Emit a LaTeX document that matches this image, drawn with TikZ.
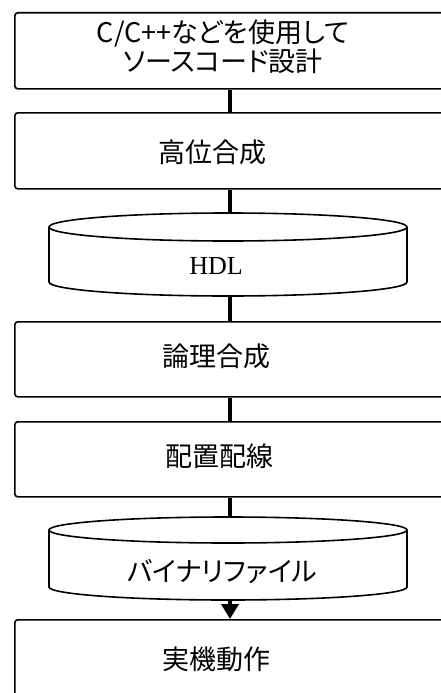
\documentclass[tikz,border=0pt]{standalone}
\usepackage{fontspec}
\setmainfont{Liberation Serif}
\newfontfamily\jp[RawFeature=+palt]{Noto Sans CJK JP}
\usetikzlibrary{arrows.meta}
\begin{document}
\begin{tikzpicture}[x=1pt,y=-1pt,
  box/.style={draw, line width=1.6pt, rounded corners=3pt, fill=white, inner sep=0pt},
  conn/.style={line width=4.5pt},
  cyl/.style={draw, line width=1.6pt, fill=white},
  jtext/.style={font=\jp\fontsize{27}{29}\selectfont, align=center, inner sep=0pt},
  ltext/.style={font=\fontsize{26}{28}\selectfont, inner sep=0pt}
]
\useasboundingbox (0,0) rectangle (441,693);
\coordinate (cx) at (230,0);
\begin{scope}
\clip (0,0) rectangle (441,693);
\node[box, anchor=north west, minimum width=450pt, minimum height=76pt] (b1) at (14,12) {};
\node[box, anchor=north west, minimum width=450pt, minimum height=76pt] (b2) at (14,112) {};
\node[box, anchor=north west, minimum width=450pt, minimum height=75pt] (b3) at (14,321) {};
\node[box, anchor=north west, minimum width=450pt, minimum height=75pt] (b4) at (14,421) {};
\node[box, anchor=north west, minimum width=450pt, minimum height=100pt] (b5) at (14,619) {};
\end{scope}
% cylinders
\path[cyl] (49,227) -- (49,282) arc[start angle=180, end angle=360, x radius=179, y radius=-14] -- (407,227);
\draw[cyl] (228,227) ellipse[x radius=179, y radius=14];
\coordinate (h1t) at (230,213);
\coordinate (h1b) at (230,296);
\path[cyl] (49,530) -- (49,587) arc[start angle=180, end angle=360, x radius=179, y radius=-13] -- (407,530);
\draw[cyl] (228,530) ellipse[x radius=179, y radius=13];
\coordinate (h2t) at (230,517);
\coordinate (h2b) at (230,600);
% connectors
\draw[conn] (b1.south -| cx) -- (b2.north -| cx);
\draw[conn] (b2.south -| cx) -- (h1t);
\draw[conn] (h1b) -- (b3.north -| cx);
\draw[conn] (b3.south -| cx) -- (b4.north -| cx);
\draw[conn] (b4.south -| cx) -- (h2t);
\draw[conn, -{Triangle[width=17pt,length=15pt]}] (h2b) -- (b5.north -| cx);
% texts
\node[jtext] (t1) at (223,47) {C/C++などを使用して\\ソースコード設計};
\node[jtext] (t2) at (212,152) {高位合成};
\node[ltext] (t3) at (216,266) {HDL};
\node[jtext] (t4) at (216,356) {論理合成};
\node[jtext] (t5) at (219,456) {配置配線};
\node[jtext] (t6) at (222,572) {バイナリファイル};
\node[jtext] (t7) at (216,659) {実機動作};
\end{tikzpicture}
\end{document}
